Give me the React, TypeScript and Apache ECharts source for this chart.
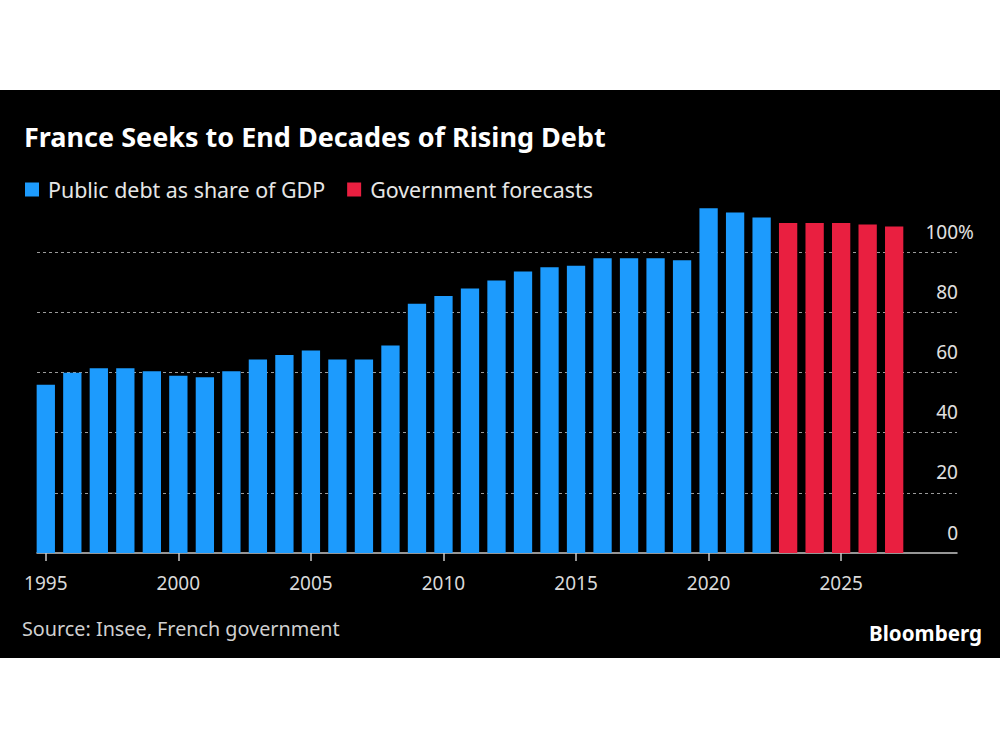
import React, { useEffect, useRef } from "react";
import * as echarts from "echarts";

// ---- Data ----
const actualYears = [
  1995, 1996, 1997, 1998, 1999, 2000, 2001, 2002, 2003, 2004, 2005, 2006, 2007, 2008,
  2009, 2010, 2011, 2012, 2013, 2014, 2015, 2016, 2017, 2018, 2019, 2020, 2021, 2022,
];
const actualDebt = [
  55.9, 59.9, 61.4, 61.4, 60.4, 58.9, 58.4, 60.4, 64.3, 65.8, 67.3, 64.3, 64.3, 68.9,
  82.8, 85.4, 87.9, 90.5, 93.5, 94.9, 95.4, 97.9, 97.9, 97.9, 97.3, 114.5, 113.1, 111.5,
];
const forecastYears = [2023, 2024, 2025, 2026, 2027];
const forecastDebt = [109.6, 109.6, 109.6, 109.1, 108.5];
const xTickYears = [1995, 2000, 2005, 2010, 2015, 2020, 2025];
const yTicks = [0, 20, 40, 60, 80, 100];
const yUnitTicks = [100];

const seriesNames = ["Public debt as share of GDP", "Government forecasts"];
const titleText = "France Seeks to End Decades of Rising Debt";
const sourceText = "Source: Insee, French government";
const brandText = "Bloomberg";

const FONT = "'Noto Sans', sans-serif";
const BLUE = "#1d9bfd";
const RED = "#e91f40";
const LABEL = "#e0e0e0";

export default function App() {
  const ref = useRef<HTMLDivElement>(null);

  useEffect(() => {
    if (!ref.current) return;
    const chart = echarts.init(ref.current, null, { renderer: "svg" });

    const yBase = {
      type: "value",
      position: "right",
      min: 0,
      max: 120,
      interval: 20,
      axisLine: { show: false },
      axisTick: { show: false },
    };

    const option = {
      animation: false,
      backgroundColor: "#000",
      textStyle: { fontFamily: FONT },
      title: [
        {
          text: titleText,
          left: 24,
          top: 33,
          padding: 0,
          textStyle: { color: "#fff", fontSize: 27, fontWeight: "bold", fontFamily: FONT },
        },
        {
          text: sourceText,
          left: 22,
          top: 528,
          padding: 0,
          textStyle: { color: "#d0d0d0", fontSize: 19.8, fontWeight: "normal", fontFamily: FONT },
        },
        {
          text: brandText,
          right: 18,
          top: 532,
          padding: 0,
          textStyle: { color: "#fff", fontSize: 20.6, fontWeight: "bold", fontFamily: FONT },
        },
      ],
      legend: {
        left: 25,
        top: 89,
        padding: 0,
        itemWidth: 14,
        itemHeight: 14,
        itemGap: 22,
        icon: "rect",
        data: seriesNames,
        textStyle: { color: "#e6e6e6", fontSize: 21.4, fontFamily: FONT, padding: [0, 0, 0, 4] },
      },
      grid: { left: 37, right: 43, top: 101.8, bottom: 105 },
      xAxis: {
        type: "value",
        min: 1994.668,
        max: 2029.37,
        splitLine: { show: false },
        axisLine: { show: true, lineStyle: { color: "#c8c8c8", width: 1.5 } },
        axisTick: {
          show: true,
          customValues: xTickYears,
          length: 8,
          lineStyle: { color: "#c8c8c8", width: 1.5 },
        },
        axisLabel: {
          customValues: xTickYears,
          margin: 20,
          color: "#d9d9d9",
          fontSize: 19,
          fontFamily: FONT,
          formatter: (v: number) => String(Math.round(v)),
        },
      },
      yAxis: [
        {
          ...yBase,
          splitLine: {
            show: true,
            showMinLine: false,
            showMaxLine: false,
            lineStyle: { color: "#9a9a9a", width: 1, type: [3, 3] },
          },
          axisLabel: {
            customValues: yTicks,
            inside: true,
            align: "right",
            verticalAlign: "bottom",
            margin: -1,
            padding: [0, 0, 11, 0],
            color: LABEL,
            fontSize: 19,
            fontFamily: FONT,
            formatter: (v: number) => String(v),
          },
        },
        {
          ...yBase,
          splitLine: { show: false },
          axisLabel: {
            customValues: yUnitTicks,
            inside: false,
            align: "left",
            verticalAlign: "bottom",
            margin: 1,
            padding: [0, 0, 11, 0],
            color: LABEL,
            fontSize: 19,
            fontFamily: FONT,
            formatter: () => "%",
          },
        },
      ],
      series: [
        {
          name: seriesNames[0],
          type: "bar",
          stack: "all",
          barWidth: 18.3,
          itemStyle: { color: BLUE },
          data: actualYears.map((y, i) => [y, actualDebt[i]]),
        },
        {
          name: seriesNames[1],
          type: "bar",
          stack: "all",
          barWidth: 18.3,
          itemStyle: { color: RED },
          data: forecastYears.map((y, i) => [y, forecastDebt[i]]),
        },
      ],
    };

    chart.setOption(option as any);
    return () => chart.dispose();
  }, []);

  return (
    <div style={{ position: "fixed", left: 0, top: 0, width: 1000, height: 750, background: "#fff" }}>
      <div
        ref={ref}
        style={{ position: "absolute", left: 0, top: 90, width: 1000, height: 568, background: "#000" }}
      />
    </div>
  );
}
